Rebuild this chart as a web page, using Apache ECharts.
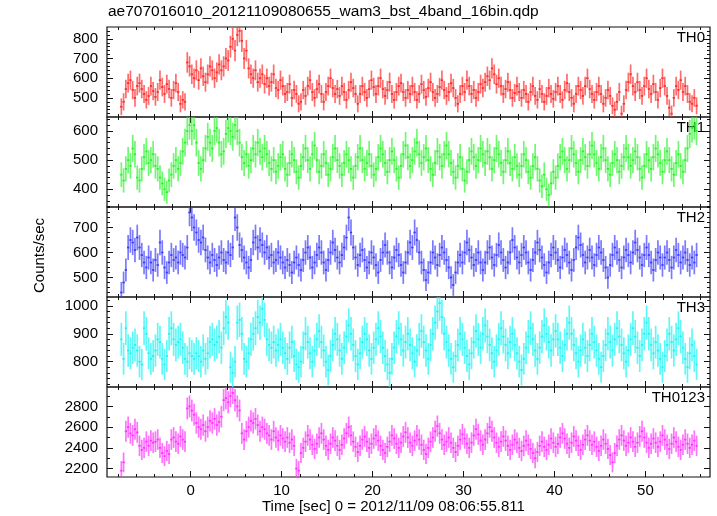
<!DOCTYPE html>
<html><head><meta charset="utf-8">
<script src="https://cdn.jsdelivr.net/npm/echarts@6/dist/echarts.min.js"></script>
<style>html,body{margin:0;padding:0;background:#fff}#c{width:717px;height:516px}</style>
</head><body><div id="c"></div>
<script>
const chartTitle = 'ae707016010_20121109080655_wam3_bst_4band_16bin.qdp';
const xAxisTitle = 'Time [sec] 0 = 2012/11/09 08:06:55.811';
const yAxisTitle = 'Counts/sec';
const panelNames = ['TH0', 'TH1', 'TH2', 'TH3', 'TH0123'];
// time bins: first bin starts at -7.75 s, 0.25 s wide (16 x 1/64 s)
const binStart = -7.75;
const binWidth = 0.25;

const th0 = [
455,480,545,575,590,540,500,560,575,545,520,490,510,560,535,505,
530,590,555,520,570,545,500,540,575,530,470,490,480,680,660,620,
600,640,590,650,610,580,620,660,640,600,630,670,640,660,700,690,
760,800,740,820,840,790,700,740,650,620,600,640,580,600,620,570,
600,560,580,620,550,540,590,560,520,530,570,500,540,520,470,480,
540,510,560,590,530,500,545,570,520,480,530,560,600,550,520,545,
510,560,530,490,540,580,550,520,470,520,560,530,500,545,590,555,
520,560,600,545,510,540,580,520,490,530,560,575,530,500,540,520,
560,530,490,520,570,540,505,550,580,530,500,520,555,590,540,510,
530,575,550,500,470,520,560,530,590,560,520,540,500,530,570,550,
580,610,590,650,620,570,600,560,520,545,580,540,500,525,560,530,
500,540,520,480,530,560,510,490,545,520,480,510,550,520,495,530,
560,520,490,540,575,530,500,470,520,560,540,510,560,600,545,520,
490,530,560,520,470,500,540,510,460,440,480,530,420,470,540,580,
620,560,530,580,540,510,560,600,545,520,570,530,490,550,600,560,
510,450,420,500,560,540,590,530,560,520,480,470,500,460];

const th1 = [
450,430,470,500,480,540,520,440,430,470,510,530,490,500,520,480,
470,440,420,400,390,430,450,480,500,470,490,530,560,600,620,600,
620,560,490,470,500,540,580,560,540,600,610,560,520,530,590,610,
600,580,620,600,560,510,490,520,480,500,540,520,560,530,510,540,
520,490,470,500,460,480,510,520,470,450,490,520,500,460,440,480,
510,540,500,470,520,550,500,460,480,520,490,450,470,510,540,500,
480,450,490,520,500,470,440,480,510,540,500,470,490,520,480,450,
470,510,540,520,490,460,500,530,500,470,440,480,520,550,510,480,
500,530,560,520,490,510,540,500,470,450,490,530,510,480,520,550,
520,490,460,440,480,510,470,430,460,500,530,510,480,500,540,520,
490,530,510,470,500,540,520,490,460,500,530,490,470,510,480,450,
480,520,500,460,440,480,510,470,430,410,450,400,380,420,460,440,
480,510,530,500,470,500,540,520,490,460,500,530,510,480,520,550,
520,490,470,510,540,500,470,450,490,520,500,460,480,510,540,510,
480,500,530,510,470,440,480,520,500,470,510,540,520,490,460,500,
530,500,470,450,490,520,480,460,500,540,590,610,620,600];

const th2 = [
440,480,530,620,650,640,610,660,620,590,560,540,580,560,530,570,
550,640,600,540,520,560,590,570,580,560,600,590,580,620,760,740,
700,680,650,640,660,610,580,560,590,570,550,580,600,570,560,600,
590,620,740,700,630,610,580,560,540,570,640,660,620,650,630,600,
620,580,590,560,570,600,580,560,540,570,550,520,560,580,550,530,
570,600,620,580,540,560,590,620,600,560,530,570,600,640,610,580,
560,590,620,660,740,680,620,580,550,590,610,570,540,560,600,580,
550,520,570,600,630,600,560,540,580,610,590,550,520,560,600,640,
620,680,650,600,560,530,490,520,560,600,580,550,590,620,600,570,
540,500,470,520,560,590,560,600,640,610,580,550,570,600,560,530,
560,600,620,580,550,590,630,600,570,540,560,600,650,620,580,560,
590,620,600,560,530,570,600,640,610,580,550,520,560,590,620,600,
570,540,580,610,590,560,530,570,620,660,630,590,560,580,610,580,
550,590,620,600,570,540,500,550,590,620,600,570,540,580,610,590,
560,600,640,610,580,550,590,620,590,560,530,570,600,580,550,580,
600,570,540,580,610,590,560,580,600,570,550,580,560,590];

const th3 = [
880,810,920,840,830,850,860,840,800,790,920,900,830,810,820,840,
880,870,810,790,820,900,920,880,860,870,880,850,810,800,830,820,
810,830,820,800,840,810,830,870,880,860,870,890,850,920,960,940,
780,760,800,940,950,900,810,800,830,880,900,920,960,940,990,950,
880,860,850,870,840,860,880,850,830,810,850,870,820,790,780,800,
850,900,870,830,800,840,880,910,870,840,800,770,820,860,900,880,
840,810,850,890,930,900,860,820,790,830,870,900,880,840,810,850,
880,920,890,850,820,790,760,810,850,890,920,880,840,870,900,860,
830,800,840,880,910,870,840,810,860,900,940,980,1010,960,900,870,
840,810,780,820,860,900,880,850,820,790,830,870,910,880,850,900,
930,890,860,830,800,840,880,920,890,860,830,870,900,860,830,800,
770,810,850,890,920,880,840,810,850,890,930,900,870,840,880,910,
880,850,820,860,900,940,900,860,830,800,840,880,850,820,860,900,
870,840,810,780,820,860,900,870,840,880,920,890,860,830,800,840,
880,920,890,850,820,860,900,940,900,860,830,870,840,810,780,820,
860,900,870,840,880,920,890,850,810,780,830,860,820,790];

const th0123 = [
2180,2260,2560,2600,2540,2520,2580,2550,2420,2380,2400,2460,2420,2470,2450,2460,
2480,2400,2350,2320,2370,2340,2480,2500,2460,2440,2510,2480,2460,2780,2800,2760,
2720,2640,2600,2580,2620,2560,2600,2660,2640,2680,2620,2650,2700,2860,2880,2840,
2900,2930,2860,2800,2760,2540,2480,2560,2600,2660,2640,2680,2620,2560,2600,2580,
2540,2520,2480,2560,2500,2470,2520,2490,2460,2500,2450,2480,2420,2200,2180,2350,
2400,2460,2520,2480,2430,2390,2440,2500,2540,2480,2420,2380,2440,2500,2470,2420,
2380,2430,2490,2540,2600,2520,2460,2410,2360,2420,2480,2510,2460,2400,2440,2490,
2520,2470,2420,2380,2350,2410,2460,2520,2490,2440,2400,2450,2510,2550,2500,2450,
2420,2470,2520,2480,2430,2380,2340,2400,2460,2500,2560,2610,2540,2480,2430,2460,
2500,2450,2400,2360,2420,2480,2530,2490,2440,2400,2450,2520,2580,2530,2470,2430,
2480,2540,2600,2560,2500,2450,2410,2460,2510,2470,2420,2380,2430,2480,2450,2400,
2370,2420,2470,2430,2390,2350,2300,2360,2420,2460,2410,2380,2430,2490,2450,2410,
2440,2500,2540,2490,2440,2400,2450,2510,2470,2420,2380,2430,2480,2520,2470,2430,
2460,2410,2370,2420,2480,2440,2390,2330,2260,2350,2420,2480,2520,2470,2420,2450,
2500,2460,2410,2450,2510,2560,2500,2450,2400,2440,2490,2450,2410,2460,2520,2480,
2430,2390,2440,2500,2460,2410,2380,2430,2480,2440,2400,2430,2470,2420];

const xTickLabels = [0, 10, 20, 30, 40, 50];
const xMinorTicks = [-8,-6,-4,-2,0,2,4,6,8,10,12,14,16,18,20,22,24,26,28,30,32,34,36,38,40,42,44,46,48,50,52,54,56];
const th0TickLabels = [500, 600, 700, 800];
const th1TickLabels = [400, 500, 600];
const th2TickLabels = [500, 600, 700];
const th3TickLabels = [800, 900, 1000];
const th0123TickLabels = [2200, 2400, 2600, 2800];
const th0Minor = [420,440,460,480,500,520,540,560,580,600,620,640,660,680,700,720,740,760,780,800,820,840];
const th1Minor = [340,360,380,400,420,440,460,480,500,520,540,560,580,600,620,640];
const th2Minor = [440,460,480,500,520,540,560,580,600,620,640,660,680,700,720,740,760,780];
const th3Minor = [720,740,760,780,800,820,840,860,880,900,920,940,960,980,1000,1020];
const th0123Minor = [2200,2300,2400,2500,2600,2700,2800,2900];

const FONT = 'Liberation Sans';
const panels = [
  {name: panelNames[0], vals: th0, min: 403, max: 860, labels: th0TickLabels, minor: th0Minor, h: '#ff2a2a', v: 'rgba(255,45,45,0.7)'},
  {name: panelNames[1], vals: th1, min: 339, max: 648, labels: th1TickLabels, minor: th1Minor, h: '#2ef02e', v: 'rgba(50,245,50,0.7)'},
  {name: panelNames[2], vals: th2, min: 422, max: 782, labels: th2TickLabels, minor: th2Minor, h: '#3a3aff', v: 'rgba(65,65,255,0.7)'},
  {name: panelNames[3], vals: th3, min: 709, max: 1032, labels: th3TickLabels, minor: th3Minor, h: '#22f2f2', v: 'rgba(40,245,245,0.75)'},
  {name: panelNames[4], vals: th0123, min: 2119, max: 2987, labels: th0123TickLabels, minor: th0123Minor, h: '#ff33ff', v: 'rgba(255,55,255,0.7)'}
];
const XMIN = -9.2, XMAX = 57.1;
const gridLeft = 107, gridRight = 7, gridTop0 = 27, panelH = 90;
const plain = v => String(v);

const grids = [], xAxes = [], yAxes = [], series = [], graphics = [];
panels.forEach((p, k) => {
  grids.push({left: gridLeft, right: gridRight, top: gridTop0 + panelH * k, height: panelH,
    show: true, borderColor: '#111', borderWidth: 1.2, backgroundColor: 'transparent'});
  const xBase = {type: 'value', gridIndex: k, min: XMIN, max: XMAX, splitLine: {show: false},
    axisLine: {show: false, onZero: false}};
  const xi = xAxes.length;
  ['bottom', 'top'].forEach(pos => {
    xAxes.push(Object.assign({}, xBase, {position: pos,
      axisTick: {show: true, inside: true, length: 6, customValues: xTickLabels, lineStyle: {color: '#111', width: 1}},
      axisLabel: {show: pos === 'bottom' && k === panels.length - 1, customValues: xTickLabels, margin: 6,
        color: '#000', fontFamily: FONT, fontSize: 15, formatter: plain}}));
    xAxes.push(Object.assign({}, xBase, {position: pos,
      axisTick: {show: true, inside: true, length: 3, customValues: xMinorTicks, lineStyle: {color: '#111', width: 1}},
      axisLabel: {show: false}}));
  });
  const yBase = {type: 'value', gridIndex: k, min: p.min, max: p.max, splitLine: {show: false},
    axisLine: {show: false, onZero: false}};
  const yi = yAxes.length;
  ['left', 'right'].forEach(pos => {
    yAxes.push(Object.assign({}, yBase, {position: pos,
      axisTick: {show: true, inside: true, length: 6, customValues: p.labels, lineStyle: {color: '#111', width: 1}},
      axisLabel: {show: pos === 'left', customValues: p.labels, margin: 9, color: '#000', fontFamily: FONT, fontSize: 15, formatter: plain}}));
    yAxes.push(Object.assign({}, yBase, {position: pos,
      axisTick: {show: true, inside: true, length: 3, customValues: p.minor, lineStyle: {color: '#111', width: 1}},
      axisLabel: {show: false}}));
  });
  // Poisson error of a 0.25 s bin rate
  const data = p.vals.map((v, i) => [binStart + (i + 0.5) * binWidth, v, Math.sqrt(v * binWidth) / binWidth]);
  series.push({
    type: 'custom', xAxisIndex: xi, yAxisIndex: yi, data: data, clip: true, silent: true, animation: false,
    renderItem: function (params, api) {
      const t = api.value(0), v = api.value(1), e = api.value(2);
      const a = api.coord([t - binWidth / 2, v]);
      const b = api.coord([t + binWidth / 2, v]);
      const top = api.coord([t, v + e]);
      const bot = api.coord([t, v - e]);
      return {type: 'group', children: [
        {type: 'line', shape: {x1: top[0], y1: top[1], x2: bot[0], y2: bot[1]}, style: {stroke: p.v, lineWidth: 1.7}},
        {type: 'line', shape: {x1: a[0], y1: a[1], x2: b[0], y2: b[1]}, style: {stroke: p.h, lineWidth: 1.7}}
      ]};
    }
  });
  graphics.push({type: 'text', right: 12, top: gridTop0 + panelH * k + 3,
    style: {text: p.name, font: '15px "' + FONT + '"', fill: '#000'}});
});

graphics.push({type: 'text', left: 108, top: 4, style: {text: chartTitle, font: '15.5px "' + FONT + '"', fill: '#000'}});
graphics.push({type: 'text', left: 262, top: 499, style: {text: xAxisTitle, font: '15px "' + FONT + '"', fill: '#000'}});
graphics.push({type: 'text', left: 32, top: 218, rotation: Math.PI / 2, style: {text: yAxisTitle, font: '15px "' + FONT + '"', fill: '#000'}});

const chart = echarts.init(document.getElementById('c'), null, {renderer: 'canvas'});
chart.setOption({animation: false, grid: grids, xAxis: xAxes, yAxis: yAxes, series: series, graphic: graphics});
</script></body></html>
